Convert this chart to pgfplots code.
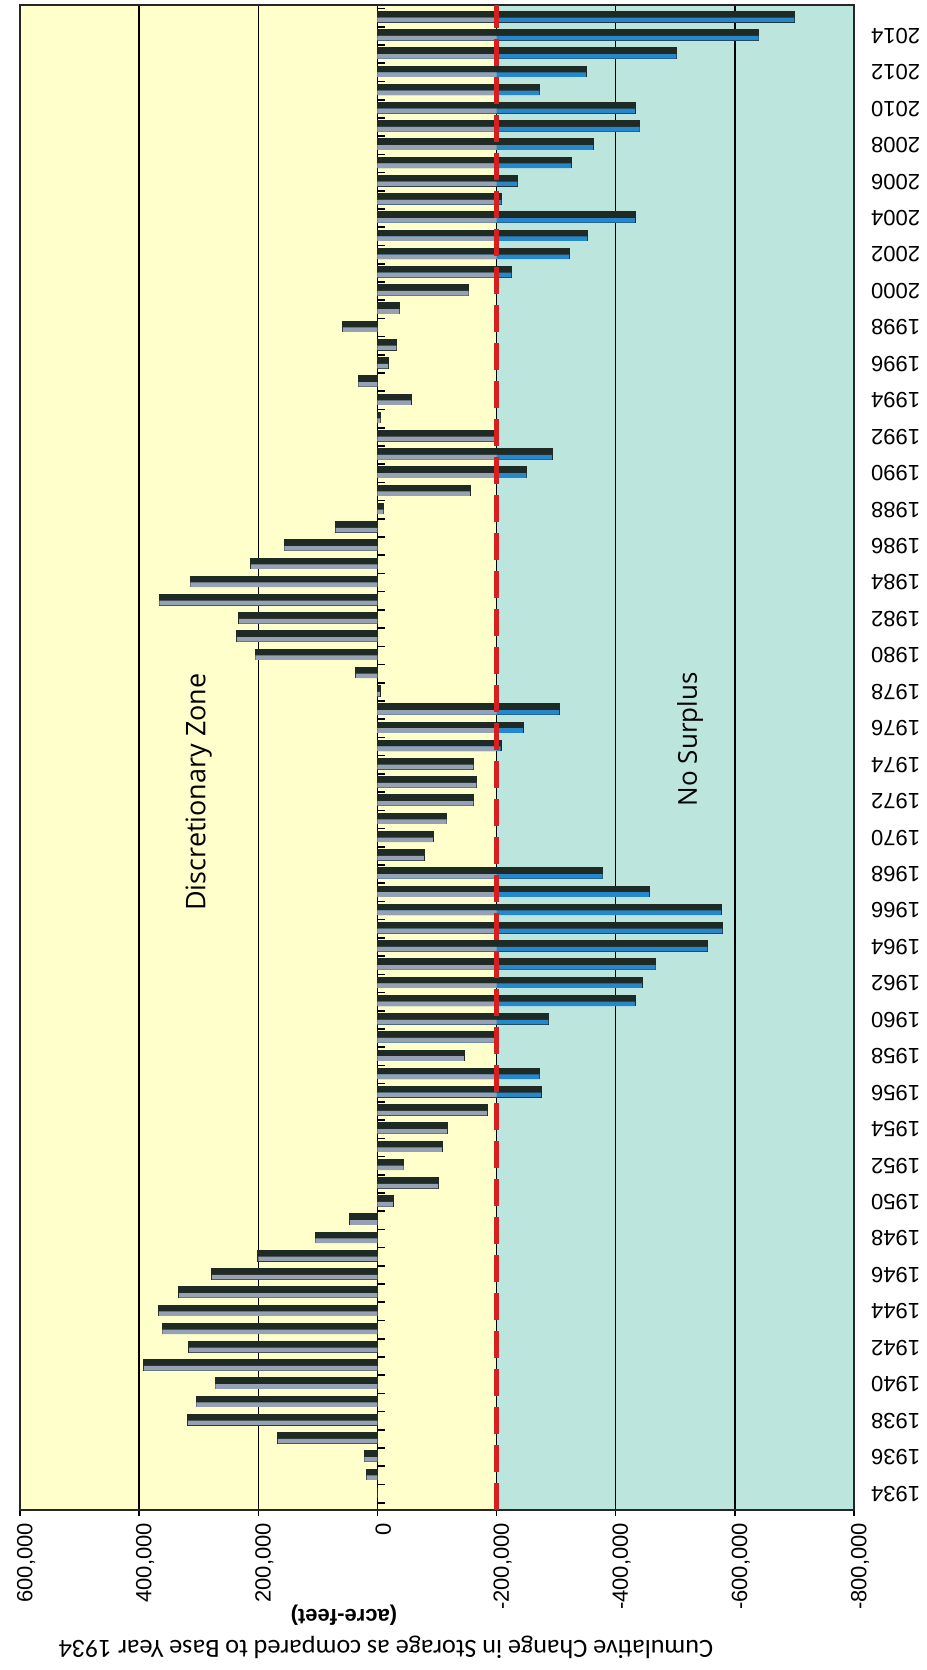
\documentclass[border=0pt]{standalone}
\usepackage{pgfplots}
\pgfplotsset{compat=1.18}
\usepackage{pgfplotstable}
\usepackage{fontspec}
\setmainfont{Liberation Sans}
\newfontfamily\cali{Carlito}
\newfontfamily\osans{Open Sans}
\definecolor{ybg}{RGB}{255,255,204}
\definecolor{cbg}{RGB}{188,229,222}
\definecolor{darkbar}{RGB}{32,42,36}
\definecolor{greybar}{RGB}{150,162,180}
\definecolor{bluebar}{RGB}{38,136,204}
\definecolor{redline}{RGB}{214,32,32}

\pgfplotstableread{
year val grey
1934 0 0
1935 18000 18000
1936 22000 22000
1937 167000 167000
1938 318000 318000
1939 304000 304000
1940 272000 272000
1941 392000 392000
1942 316000 316000
1943 361000 361000
1944 367000 367000
1945 333000 333000
1946 278000 278000
1947 200000 200000
1948 104000 104000
1949 46000 46000
1950 -26000 -26000
1951 -102000 -102000
1952 -44000 -44000
1953 -108000 -108000
1954 -117000 -117000
1955 -184000 -184000
1956 -275000 -200000
1957 -272000 -200000
1958 -145000 -145000
1959 -202000 -200000
1960 -287000 -200000
1961 -432000 -200000
1962 -444000 -200000
1963 -467000 -200000
1964 -554000 -200000
1965 -579000 -200000
1966 -577000 -200000
1967 -456000 -200000
1968 -378000 -200000
1969 -78000 -78000
1970 -93000 -93000
1971 -116000 -116000
1972 -161000 -161000
1973 -166000 -166000
1974 -161000 -161000
1975 -207000 -200000
1976 -244000 -200000
1977 -305000 -200000
1978 -4000 -4000
1979 36000 36000
1980 205000 205000
1981 236000 236000
1982 232000 232000
1983 366000 366000
1984 314000 314000
1985 212000 212000
1986 156000 156000
1987 70000 70000
1988 -10000 -10000
1989 -155000 -155000
1990 -250000 -200000
1991 -293000 -200000
1992 -200000 -200000
1993 -5000 -5000
1994 -56000 -56000
1995 32000 32000
1996 -18000 -18000
1997 -32000 -32000
1998 58000 58000
1999 -37000 -37000
2000 -153000 -153000
2001 -225000 -200000
2002 -322000 -200000
2003 -352000 -200000
2004 -432000 -200000
2005 -208000 -200000
2006 -235000 -200000
2007 -325000 -200000
2008 -362000 -200000
2009 -440000 -200000
2010 -432000 -200000
2011 -272000 -200000
2012 -350000 -200000
2013 -502000 -200000
2014 -640000 -200000
2015 -700000 -200000
}\storage

\pgfplotstableread{
year val
1956 -275000
1957 -272000
1959 -202000
1960 -287000
1961 -432000
1962 -444000
1963 -467000
1964 -554000
1965 -579000
1966 -577000
1967 -456000
1968 -378000
1975 -207000
1976 -244000
1977 -305000
1990 -250000
1991 -293000
2001 -225000
2002 -322000
2003 -352000
2004 -432000
2005 -208000
2006 -235000
2007 -325000
2008 -362000
2009 -440000
2010 -432000
2011 -272000
2012 -350000
2013 -502000
2014 -640000
2015 -700000
}\excess

\pgfplotstableread{
pos len
1933.5 -12000
1934.5 -12000
1935.5 -12000
1936.5 -12000
1937.5 -12000
1938.5 -12000
1939.5 -12000
1940.5 -12000
1941.5 -12000
1942.5 -12000
1943.5 -12000
1944.5 -12000
1945.5 -12000
1946.5 -12000
1947.5 -12000
1948.5 -12000
1949.5 -12000
1950.5 -12000
1951.5 -12000
1952.5 -12000
1953.5 -12000
1954.5 -12000
1955.5 -12000
1956.5 -12000
1957.5 -12000
1958.5 -12000
1959.5 -12000
1960.5 -12000
1961.5 -12000
1962.5 -12000
1963.5 -12000
1964.5 -12000
1965.5 -12000
1966.5 -12000
1967.5 -12000
1968.5 -12000
1969.5 -12000
1970.5 -12000
1971.5 -12000
1972.5 -12000
1973.5 -12000
1974.5 -12000
1975.5 -12000
1976.5 -12000
1977.5 -12000
1978.5 -12000
1979.5 -12000
1980.5 -12000
1981.5 -12000
1982.5 -12000
1983.5 -12000
1984.5 -12000
1985.5 -12000
1986.5 -12000
1987.5 -12000
1988.5 -12000
1989.5 -12000
1990.5 -12000
1991.5 -12000
1992.5 -12000
1993.5 -12000
1994.5 -12000
1995.5 -12000
1996.5 -12000
1997.5 -12000
1998.5 -12000
1999.5 -12000
2000.5 -12000
2001.5 -12000
2002.5 -12000
2003.5 -12000
2004.5 -12000
2005.5 -12000
2006.5 -12000
2007.5 -12000
2008.5 -12000
2009.5 -12000
2010.5 -12000
2011.5 -12000
2012.5 -12000
2013.5 -12000
2014.5 -12000
2015.5 -12000
}\zeroticks

\begin{document}
\begin{tikzpicture}
\begin{axis}[
  set layers=standard,
  at={(10pt,80pt)}, anchor=south west,
  scale only axis, width=417pt, height=752.5pt,
  x dir=reverse,
  xmin=-800000, xmax=600000,
  ymin=1933.1, ymax=2015.7,
  enlargelimits=false,
  scaled x ticks=false,
  xtick={-800000,-600000,-400000,-200000,0,200000,400000,600000},
  xticklabels={{-800,000},{-600,000},{-400,000},{-200,000},{0},{200,000},{400,000},{600,000}},
  xticklabel style={rotate=90, anchor=east, yshift=-3pt, font=\fontsize{11}{13}\selectfont},
  ytick={1934,1936,...,2014},
  yticklabel pos=right,
  yticklabel style={/pgf/number format/1000 sep={}, /pgf/number format/assume math mode=true,
     xshift=2pt, rotate=180, anchor=east, font=\fontsize{11}{13}\selectfont},
  ytick style={draw=none},
  xtick pos=left,
  tick align=outside,
  major tick length=3pt,
  xtick style={black, line width=0.7pt},
  xmajorgrids,
  grid style={black, line width=0.7pt},
  axis line style={draw=black!85, line width=0.8pt},
]
\addplot[fill=ybg, draw=none, on layer=axis background] coordinates {(600000,1933.1) (-200000,1933.1) (-200000,2015.7) (600000,2015.7)} -- cycle;
\addplot[fill=cbg, draw=none, on layer=axis background] coordinates {(-200000,1933.1) (-800000,1933.1) (-800000,2015.7) (-200000,2015.7)} -- cycle;

\addplot[xcomb, black, line width=0.8pt] table[x=len,y=pos]{\zeroticks};

\addplot[xbar, bar width=5pt, bar shift=0.5pt, fill=darkbar, draw=darkbar, line width=0.8pt] table[x=val,y=year]{\storage};
\addplot[xbar, bar width=2.3pt, bar shift=-1.1pt, fill=bluebar, draw=none] table[x=val,y=year]{\excess};
\addplot[xbar, bar width=2.3pt, bar shift=-1.1pt, fill=greybar, draw=none] table[x=grey,y=year]{\storage};

\addplot[redline, line width=2.3pt, dash pattern=on 13.5pt off 5.5pt] coordinates {(-200000,1933.1) (-200000,2015.7)};

\node[rotate=90, font=\osans\fontsize{13.5}{15}\selectfont] at (axis cs:300000,1972.5) {Discretionary Zone};
\node[rotate=90, font=\osans\fontsize{13}{15}\selectfont] at (axis cs:-525000,1975.4) {No Surplus};
\end{axis}
\node[rotate=180, font=\bfseries\fontsize{11}{13}\selectfont] at (172pt,27.5pt) {(acre-feet)};
\node[rotate=180, font=\cali\fontsize{13.1}{15}\selectfont] at (193pt,11.5pt) {Cumulative Change in Storage as compared to Base Year 1934};
\path (0,0) rectangle (463pt,835pt);
\end{tikzpicture}
\end{document}
